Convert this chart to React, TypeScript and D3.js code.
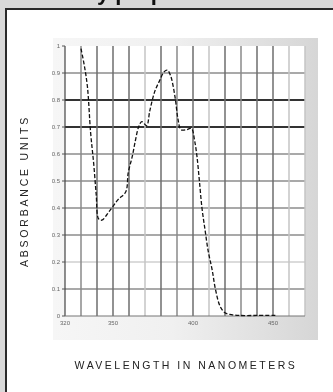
import React from 'react'
import * as d3 from 'd3'

// wavelength (nm) and absorbance
const wavelengths = [330, 332, 334, 336, 338, 339.5, 341, 343, 348, 353, 358, 359.5, 362, 364, 366, 368, 371, 373, 376, 379, 382, 384, 386, 388.8, 390.6, 392.5, 396, 399, 401, 402.5, 404, 405.6, 407.5, 409.5, 412, 414, 417, 420, 424, 429, 440, 452]
const absorbance = [0.99, 0.93, 0.85, 0.68, 0.56, 0.45, 0.36, 0.355, 0.39, 0.43, 0.46, 0.53, 0.59, 0.65, 0.7, 0.72, 0.705, 0.76, 0.83, 0.87, 0.905, 0.91, 0.89, 0.81, 0.73, 0.69, 0.69, 0.695, 0.65, 0.59, 0.5, 0.4, 0.32, 0.24, 0.17, 0.1, 0.035, 0.012, 0.005, 0.002, 0.002, 0.002]

const xTickValues = [320, 350, 400, 450]
const yTickValues = [0, 0.1, 0.2, 0.3, 0.4, 0.5, 0.6, 0.7, 0.8, 0.9, 1]
const xGrid = [330, 340, 350, 360, 370, 380, 390, 400, 410, 420, 430, 440, 450, 460, 470]
const yGrid = [0.1, 0.2, 0.3, 0.4, 0.5, 0.6, 0.7, 0.8, 0.9]

const width = 333
const height = 392
const font = '"Liberation Sans", Arial, sans-serif'

export default function App() {
    const x = d3.scaleLinear().domain([320, 470]).range([65, 305])
    const y = d3.scaleLinear().domain([0, 1]).range([316, 46])

    const points: [number, number][] = wavelengths.map((w, i) => [w, absorbance[i]])
    const line = d3.line<[number, number]>()
        .x(d => x(d[0]))
        .y(d => y(d[1]))
        .curve(d3.curveCatmullRom.alpha(0.5))

    const lightV = [370, 410, 460, 470]
    const vStroke = (v: number) => lightV.includes(v) ? '#c4c4c4' : (v === 330 || v === 390 || v === 430 ? '#8a8a8a' : '#6e6e6e')
    const hStroke = (v: number) => (v === 0.7 || v === 0.8) ? '#333' : v === 0.2 ? '#cfcfcf' : '#8c8c8c'

    const yFmt = (d: number) => d === 0 ? '0' : d === 1 ? '1' : d.toFixed(1)

    return (
        <div style={{ position: 'fixed', left: 0, top: 0 }}>
            <svg width={width} height={height} style={{ display: 'block' }}>
                <defs>
                    <linearGradient id="plotbg" x1="0" y1="0" x2="1" y2="0">
                        <stop offset="0" stopColor="#f6f6f6" />
                        <stop offset="0.45" stopColor="#f0f0f0" />
                        <stop offset="1" stopColor="#d6d6d6" />
                    </linearGradient>
                </defs>
                <rect x={0} y={0} width={width} height={height} fill="#d9d9d9" />
                {/* heading of the page, cut by the crop */}
                <text x={-18} y={0} fontFamily={font} fontWeight="bold" fontSize={22} fill="#111">Absorbency properties</text>
                <rect x={6} y={9} width={width + 10} height={height + 10} fill="#fff" stroke="#2a2a2a" strokeWidth={2} />

                <rect x={53} y={38} width={265} height={302} fill="url(#plotbg)" />
                <rect x={x(320)} y={y(1)} width={x(470) - x(320)} height={y(0) - y(1)} fill="#fff" />

                {yGrid.map(v => (
                    <line key={'h' + v} x1={x(320)} x2={x(470)} y1={y(v)} y2={y(v)}
                        stroke={hStroke(v)} strokeWidth={v === 0.7 || v === 0.8 ? 2 : 1.5} />
                ))}
                {xGrid.map(v => (
                    <line key={'v' + v} x1={x(v)} x2={x(v)} y1={y(1)} y2={y(0)}
                        stroke={vStroke(v)} strokeWidth={1.5} />
                ))}

                {/* axes */}
                <line x1={x(320)} x2={x(320)} y1={y(1)} y2={y(0)} stroke="#444" strokeWidth={1.2} />
                <line x1={x(320)} x2={x(470)} y1={y(0)} y2={y(0)} stroke="#777" strokeWidth={1.2} />
                {yTickValues.map(v => (
                    <g key={'yt' + v} transform={`translate(${x(320)},${y(v)})`}>
                        <line x1={-3} x2={0} stroke="#555" strokeWidth={1} />
                        <text x={-5} dy="0.35em" textAnchor="end" fontFamily={font} fontSize={6} fill="#666">{yFmt(v)}</text>
                    </g>
                ))}
                {xTickValues.map(v => (
                    <text key={'xt' + v} x={x(v)} y={y(0) + 9} textAnchor="middle" fontFamily={font} fontSize={6} fill="#666">{v}</text>
                ))}

                <path d={line(points) || ''} fill="none" stroke="#111" strokeWidth={1.3} strokeDasharray="4,2" />

                <text transform="translate(28,191) rotate(-90)" textAnchor="middle" fontFamily={font}
                    fontSize={10.5} letterSpacing={2.8} fill="#222">ABSORBANCE UNITS</text>
                <text x={186} y={369} textAnchor="middle" fontFamily={font}
                    fontSize={10.5} letterSpacing={2.5} fill="#222">WAVELENGTH IN NANOMETERS</text>
            </svg>
        </div>
    )
}
